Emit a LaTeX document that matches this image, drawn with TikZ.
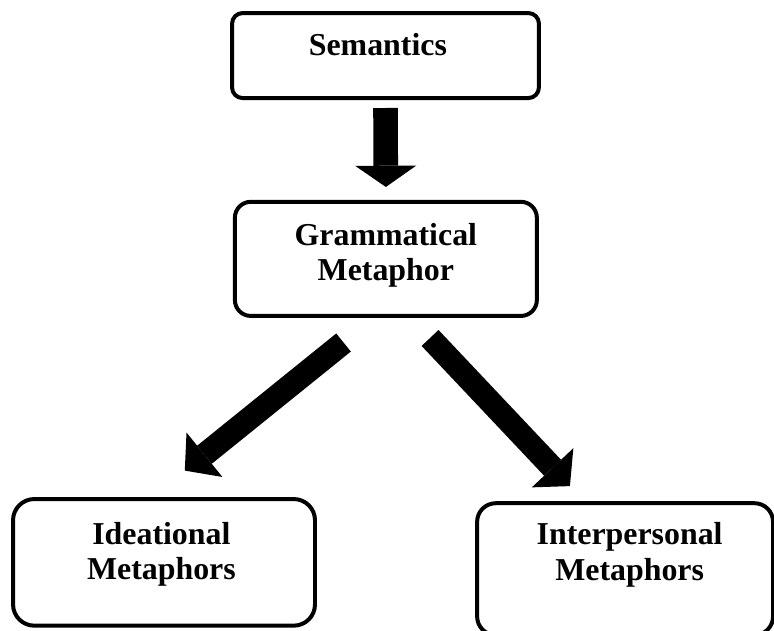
\documentclass[tikz,border=0pt]{standalone}
\usepackage{fontspec}
\setmainfont{Liberation Serif}
\usetikzlibrary{positioning, arrows.meta, calc}

\begin{document}
\begin{tikzpicture}[
  align=center,
  font=\bfseries\fontsize{24}{26.5}\selectfont,
  % Box styles
  box/.style={draw, rectangle, rounded corners=12pt, line width=3pt, fill=white},
  boxtext/.style={inner sep=0pt},
  % Block arrow styles
  downarrow/.style={draw, line width=18.5pt, -{Triangle[width=46pt, length=16pt, line width=0pt]}},
  bigarrow/.style={draw, line width=17.5pt, -{Triangle[width=43pt, length=19pt, line width=0pt]}}
]
  \useasboundingbox (0,0) rectangle (20.48,16.67);

  % ==========================================
  % TOP: SEMANTICS -> GRAMMATICAL METAPHOR
  % ==========================================
  \node[box, minimum width=8.12cm, minimum height=2.25cm, rounded corners=8pt] (sem) at (10.20, 15.20) {};
  \node[boxtext] (semtxt) at ($(sem.center) + (-0.2, 0.28)$) {Semantics};

  \node[box, minimum width=7.99cm, minimum height=3.02cm] (gram) at (10.21, 9.82) {};
  \node[boxtext] (gramtxt) at ($(gram.center) + (0, 0.09)$) {Grammatical\\Metaphor};

  \draw[downarrow] ($(sem.south) + (0,-0.21)$) -- ($(gram.north) + (0,0.34)$);

  % ==========================================
  % BOTTOM: THE TWO KINDS OF METAPHOR
  % ==========================================
  \node[box, minimum width=7.99cm, minimum height=3.35cm, rounded corners=16pt] (ideat) at (4.34, 1.79) {};
  \node[boxtext] (ideatxt) at ($(ideat.center) + (-0.07, 0.22)$) {Ideational\\Metaphors};

  \node[box, minimum width=7.83cm, minimum height=3.49cm, rounded corners=14pt] (inter) at (16.54, 1.61) {};
  \node[boxtext] (intertxt) at ($(inter.center) + (0.12, 0.38)$) {Interpersonal\\Metaphors};

  % Split arrows
  \draw[bigarrow] ($(gram.south) + (-1.12,-0.65)$) -- ($(ideat.north) + (0.55,0.70)$);
  \draw[bigarrow] ($(gram.south) + (1.17,-0.53)$) -- ($(inter.north) + (-1.46,0.40)$);

\end{tikzpicture}
\end{document}
